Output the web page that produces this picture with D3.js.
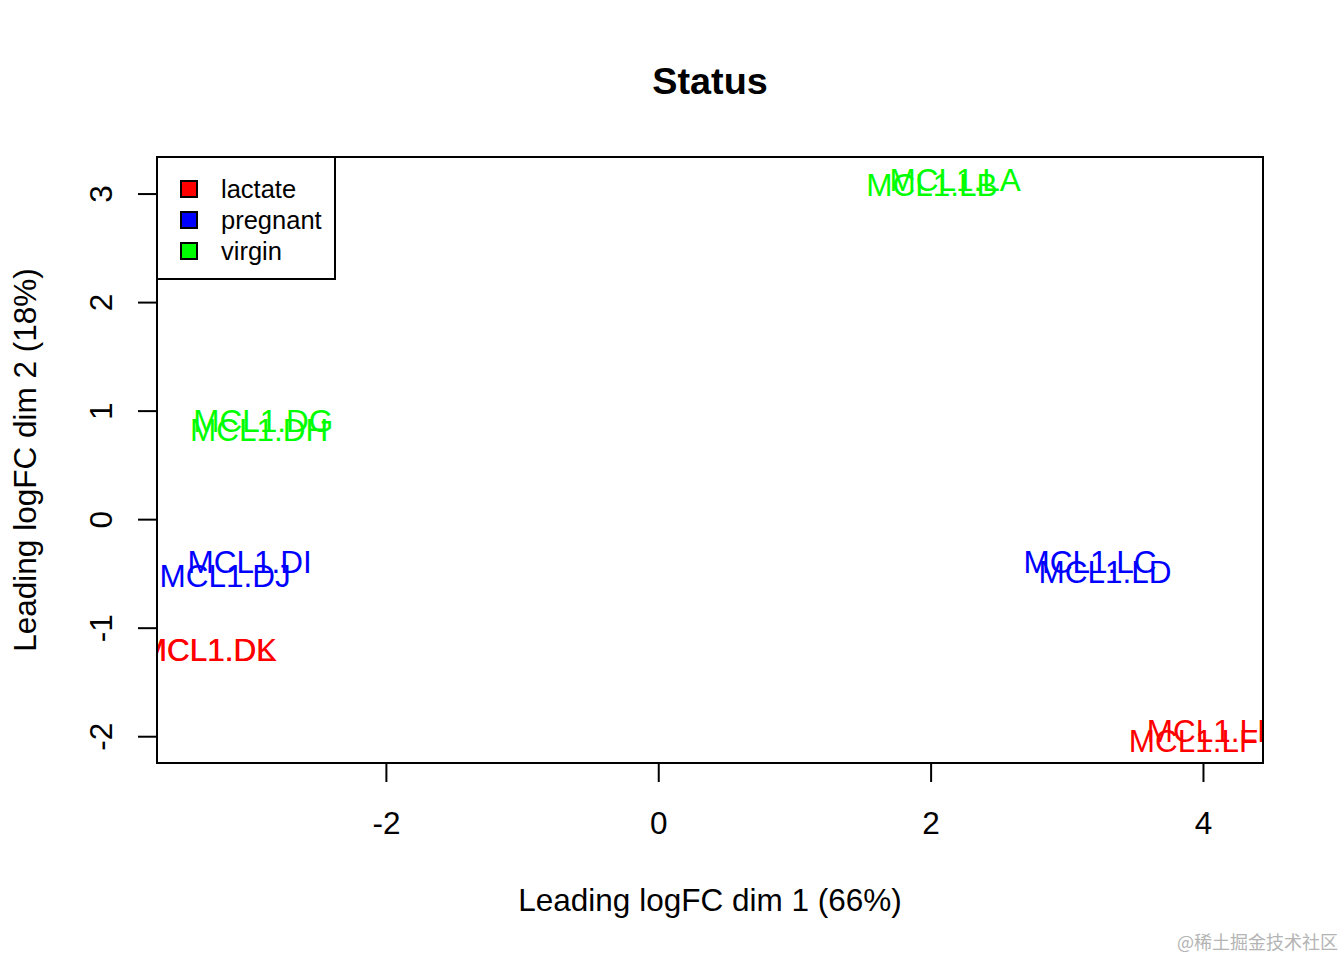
<!DOCTYPE html>
<html>
<head>
<meta charset="utf-8">
<script src="https://cdn.jsdelivr.net/npm/d3@7"></script>
<style>
  body { margin: 0; background: #fff; }
  svg { display: block; font-family: "Liberation Sans", Arial, sans-serif; }
</style>
</head>
<body>
<svg></svg>
<script>
// MDS sample labels, their group and leading logFC coordinates
let samples = ['MCL1.DG', 'MCL1.DH', 'MCL1.DI', 'MCL1.DJ', 'MCL1.DK', 'MCL1.DL',
               'MCL1.LA', 'MCL1.LB', 'MCL1.LC', 'MCL1.LD', 'MCL1.LE', 'MCL1.LF']
let groups = ['virgin', 'virgin', 'pregnant', 'pregnant', 'lactate', 'lactate',
              'virgin', 'virgin', 'pregnant', 'pregnant', 'lactate', 'lactate']
let dim1 = [-2.90, -2.93, -3.00, -3.18, -3.30, -3.31, 2.18, 2.01, 3.17, 3.28, 4.07, 3.93]
let dim2 = [0.91, 0.82, -0.39, -0.52, -1.20, -1.20, 3.13, 3.08, -0.39, -0.48, -1.95, -2.04]

let legendLabels = ['lactate', 'pregnant', 'virgin']
let legendColors = ['#ff0000', '#0000ff', '#00ff00']
let xTicks = [-2, 0, 2, 4]
let yTicks = [-2, -1, 0, 1, 2, 3]

document.addEventListener('DOMContentLoaded', function () {
    let width = 1344
    let height = 960
    // plot box, like R's plot region
    let left = 157, right = 1263, top = 157, bottom = 763
    let fontSize = 31.5

    let svg = d3.select('svg').attr('width', width).attr('height', height)

    let values = samples.map((s, i) => ({ label: s, group: groups[i], x: dim1[i], y: dim2[i] }))
    let color = d3.scaleOrdinal().domain(legendLabels).range(legendColors)

    // R pads the range by 4%, limma also widens x by a little string radius
    let pad = (lo, hi) => { let r = hi - lo; return [lo - 0.04 * r, hi + 0.04 * r] }
    let radius = 0.07
    let xScale = d3.scaleLinear()
                   .domain(pad(d3.min(dim1) - radius, d3.max(dim1) + radius))
                   .range([left, right])
    let yScale = d3.scaleLinear()
                   .domain(pad(d3.min(dim2), d3.max(dim2)))
                   .range([bottom, top])

    // R prints a plain hyphen for negatives
    let plain = d => String(d)

    // axes
    let xAxis = d3.axisBottom(xScale).tickValues(xTicks).tickFormat(plain)
                  .tickSizeInner(19).tickSizeOuter(0).tickPadding(30)
    let gx = svg.append('g')
                .attr('transform', 'translate(0,' + bottom + ')')
                .call(xAxis)
    gx.select('.domain').remove()
    gx.selectAll('line').attr('stroke', '#000').attr('stroke-width', 2)
    gx.selectAll('text').attr('font-size', fontSize).attr('fill', '#000')
      .attr('font-family', '"Liberation Sans", Arial, sans-serif')

    let yAxis = d3.axisLeft(yScale).tickValues(yTicks).tickFormat(plain)
                  .tickSizeInner(19).tickSizeOuter(0)
    let gy = svg.append('g')
                .attr('transform', 'translate(' + left + ',0)')
                .call(yAxis)
    gy.select('.domain').remove()
    gy.selectAll('line').attr('stroke', '#000').attr('stroke-width', 2)
    // R draws left tick labels parallel to the axis
    gy.selectAll('text')
      .attr('font-size', fontSize).attr('fill', '#000')
      .attr('font-family', '"Liberation Sans", Arial, sans-serif')
      .attr('x', null)
      .attr('text-anchor', 'middle')
      .attr('transform', 'translate(' + (101 - left) + ',0) rotate(-90)')
      .attr('dy', '0.358em')

    // clip the labels to the box
    svg.append('clipPath').attr('id', 'plotClip')
       .append('rect').attr('x', left).attr('y', top)
       .attr('width', right - left).attr('height', bottom - top)

    svg.append('g')
       .attr('clip-path', 'url(#plotClip)')
       .selectAll('text')
       .data(values)
       .enter()
       .append('text')
       .attr('x', d => xScale(d.x))
       .attr('y', d => yScale(d.y))
       .attr('dy', '0.358em')
       .attr('text-anchor', 'middle')
       .attr('font-size', fontSize)
       .attr('fill', d => color(d.group))
       .text(d => d.label)

    // box round the plot
    svg.append('rect')
       .attr('x', left).attr('y', top)
       .attr('width', right - left).attr('height', bottom - top)
       .attr('fill', 'none').attr('stroke', '#000').attr('stroke-width', 2)

    // legend in the top left corner
    let legend = svg.append('g')
    legend.append('rect')
          .attr('x', left).attr('y', top).attr('width', 178).attr('height', 122)
          .attr('fill', '#fff').attr('stroke', '#000').attr('stroke-width', 2)
    legendLabels.forEach((lab, i) => {
        let cy = 189 + i * 31
        legend.append('rect')
              .attr('x', 181).attr('y', cy - 8).attr('width', 16).attr('height', 16)
              .attr('fill', legendColors[i]).attr('stroke', '#000').attr('stroke-width', 2)
        legend.append('text')
              .attr('x', 221).attr('y', cy).attr('dy', '0.358em')
              .attr('font-size', 25.5).attr('fill', '#000')
              .text(lab)
    })

    // titles
    svg.append('text')
       .attr('x', (left + right) / 2).attr('y', 80).attr('dy', '0.358em')
       .attr('text-anchor', 'middle').attr('font-size', 37.8).attr('font-weight', 'bold')
       .text('Status')
    svg.append('text')
       .attr('x', (left + right) / 2).attr('y', 900).attr('dy', '0.358em')
       .attr('text-anchor', 'middle').attr('font-size', fontSize)
       .text('Leading logFC dim 1 (66%)')
    svg.append('text')
       .attr('transform', 'translate(25,' + (top + bottom) / 2 + ') rotate(-90)')
       .attr('dy', '0.358em')
       .attr('text-anchor', 'middle').attr('font-size', fontSize)
       .text('Leading logFC dim 2 (18%)')

    // site watermark
    svg.append('text')
       .attr('x', 1338).attr('y', 943).attr('dy', '0.35em')
       .attr('text-anchor', 'end').attr('font-size', 18).attr('fill', '#b4b4b4')
       .attr('font-family', '"Noto Sans CJK SC", sans-serif')
       .text('@稀土掘金技术社区')
})
</script>
</body>
</html>
